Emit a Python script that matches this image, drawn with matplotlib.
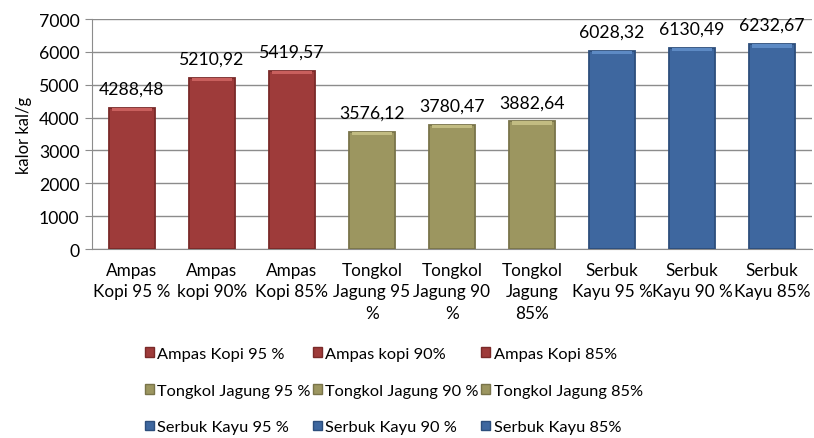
import matplotlib.pyplot as plt
from matplotlib.patches import Rectangle

categories = ["Ampas\nKopi 95 %", "Ampas\nkopi 90%", "Ampas\nKopi 85%",
              "Tongkol\nJagung 95\n%", "Tongkol\nJagung 90\n%", "Tongkol\nJagung\n85%",
              "Serbuk\nKayu 95 %", "Serbuk\nKayu 90 %", "Serbuk\nKayu 85%"]
legend_labels = ["Ampas Kopi 95 %", "Ampas kopi 90%", "Ampas Kopi 85%",
                 "Tongkol Jagung 95 %", "Tongkol Jagung 90 %", "Tongkol Jagung 85%",
                 "Serbuk Kayu 95 %", "Serbuk Kayu 90 %", "Serbuk Kayu 85%"]
values = [4288.48, 5210.92, 5419.57, 3576.12, 3780.47, 3882.64, 6028.32, 6130.49, 6232.67]
value_labels = ["4288,48", "5210,92", "5419,57", "3576,12", "3780,47", "3882,64",
                "6028,32", "6130,49", "6232,67"]

red, olive, blue = "#9E3B3A", "#9C9660", "#3E679F"
colors = [red] * 3 + [olive] * 3 + [blue] * 3
edges = {red: "#7A2A29", olive: "#79744A", blue: "#2D4E7C"}
tops = {red: "#C95F5D", olive: "#C2BC82", blue: "#5D8AC4"}

plt.rcParams['font.family'] = ['Lato', 'DejaVu Sans']
fs = 12.3

fig = plt.figure(figsize=(8.14, 4.39), dpi=100)
ax = fig.add_axes([0.113, 0.4305, 0.8845, 0.5239])

x = list(range(len(values)))
bars = ax.bar(x, values, width=0.58, color=colors,
              edgecolor=[edges[c] for c in colors], linewidth=1.3, zorder=3)
# light bevel on top of each bar
cap = 100
ax.bar(x, [cap] * len(values), bottom=[v - cap for v in values], width=0.5,
       color=[tops[c] for c in colors], linewidth=0, zorder=4)

for xi, v, lab in zip(x, values, value_labels):
    ax.annotate(lab, (xi, v), xytext=(0, 8), textcoords="offset points",
                ha="center", va="bottom", fontsize=fs + 0.4, color="black")

ax.set_ylim(0, 7000)
ax.set_xlim(-0.5, len(values) - 0.5)
ax.set_yticks(range(0, 7001, 1000))
ax.set_xticks(x)
ax.set_xticklabels(categories, fontsize=fs, linespacing=1.45)
ax.tick_params(axis="y", labelsize=fs + 0.4, length=5, color="#8C8C8C", pad=4)
ax.tick_params(axis="x", length=0, pad=9)
ax.set_ylabel("kalor kal/g", fontsize=12, labelpad=5)
ax.yaxis.grid(True, color="#8C8C8C", linewidth=1, zorder=0)
ax.set_axisbelow(True)
for s in ["top", "right"]:
    ax.spines[s].set_visible(False)
for s in ["left", "bottom"]:
    ax.spines[s].set_color("#8C8C8C")

# legend rows read left-to-right like Excel: reorder for matplotlib's column fill
handles = [Rectangle((0, 0), 1, 1, facecolor=c, edgecolor=edges[c]) for c in colors]
order = [0, 3, 6, 1, 4, 7, 2, 5, 8]
fig.legend([handles[i] for i in order], [legend_labels[i] for i in order],
           ncol=3, loc="upper left", bbox_to_anchor=(0.178, 0.207),
           frameon=False, fontsize=11.8, handlelength=0.55, handleheight=0.55,
           handletextpad=0.2, columnspacing=0.15, labelspacing=1.38,
           borderpad=0, borderaxespad=0)

plt.savefig("out.png", dpi=100)
